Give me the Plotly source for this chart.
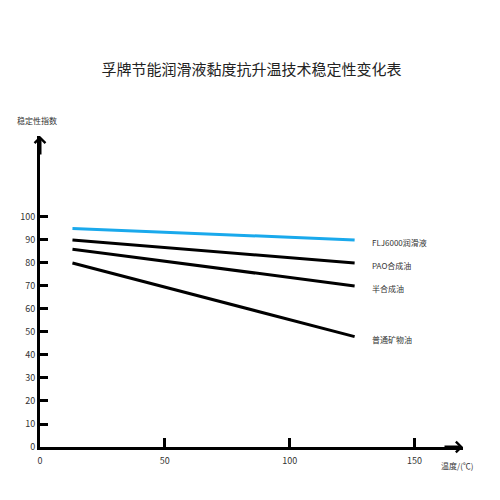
import plotly.graph_objects as go

# temperature (°C) at the two ends of each line
temps = [13, 126]

# stability index per product
series_names = ['FLJ6000润滑液', 'PAO合成油', '半合成油', '普通矿物油']
flj6000 = [95, 90]
pao = [90, 80]
semi_synthetic = [86, 70]
mineral = [80, 48]

y_ticks = [0, 10, 20, 30, 40, 50, 60, 70, 80, 90, 100]
x_ticks = [0, 50, 100, 150]

FONT = 'Noto Sans CJK SC, Noto Sans, sans-serif'
colors = ['#1aa9ec', 'black', 'black', 'black']

fig = go.Figure()

for name, vals, col in zip(series_names, [flj6000, pao, semi_synthetic, mineral], colors):
    fig.add_trace(go.Scatter(
        x=temps, y=vals, mode='lines', name=name,
        line=dict(color=col, width=3),
        showlegend=False,
        hovertemplate=name + ' %{x}℃: %{y}<extra></extra>'
    ))
    # label at the end of each line
    fig.add_annotation(
        x=temps[-1], y=vals[-1], text=name, showarrow=False,
        xanchor='left', yanchor='middle', xshift=15, yshift=-3,
        font=dict(family=FONT, size=8, color='#333')
    )

# arrow heads on the axes
fig.add_annotation(x=1, y=0, xref='paper', yref='paper', axref='pixel', ayref='pixel',
                   ax=-20, ay=0, text='', showarrow=True,
                   arrowhead=4, arrowsize=0.7, arrowwidth=3, arrowcolor='black')
fig.add_annotation(x=0, y=1, xref='paper', yref='paper', axref='pixel', ayref='pixel',
                   ax=0, ay=20, text='', showarrow=True,
                   arrowhead=4, arrowsize=0.7, arrowwidth=3, arrowcolor='black')

# axis titles
fig.add_annotation(x=0, y=1, xref='paper', yref='paper', text='稳定性指数',
                   showarrow=False, xanchor='center', yanchor='bottom', yshift=8,
                   xshift=-3, font=dict(family=FONT, size=8, color='#333'))
fig.add_annotation(x=1, y=0, xref='paper', yref='paper', text='温度/(℃)',
                   showarrow=False, xanchor='center', yanchor='top', yshift=-11,
                   xshift=-6, font=dict(family=FONT, size=8, color='#333'))

# page body adds ~8px offset, so margins are shifted up/left by that amount
fig.update_layout(
    width=500, height=500,
    title=dict(text='孚牌节能润滑液黏度抗升温技术稳定性变化表', x=0.5, xanchor='center',
               xref='paper', y=0.876, yanchor='middle',
               font=dict(family=FONT, size=15, color='#222')),
    margin=dict(l=28, r=45, t=128, b=61),
    plot_bgcolor='white', paper_bgcolor='white',
    xaxis=dict(
        range=[0, 169.4], tickvals=x_ticks, ticks='inside', ticklen=9, tickwidth=3,
        tickcolor='black', showline=True, linecolor='black', linewidth=3,
        showgrid=False, zeroline=False, ticklabelstandoff=3,
        tickfont=dict(family=FONT, size=9, color='#333')
    ),
    yaxis=dict(
        range=[0, 135.2], tickvals=y_ticks, ticks='inside', ticklen=8, tickwidth=3,
        tickcolor='black', showline=True, linecolor='black', linewidth=3,
        showgrid=False, zeroline=False, ticklabelstandoff=0,
        tickfont=dict(family=FONT, size=9, color='#333')
    ),
)

fig.write_html("out.html")
